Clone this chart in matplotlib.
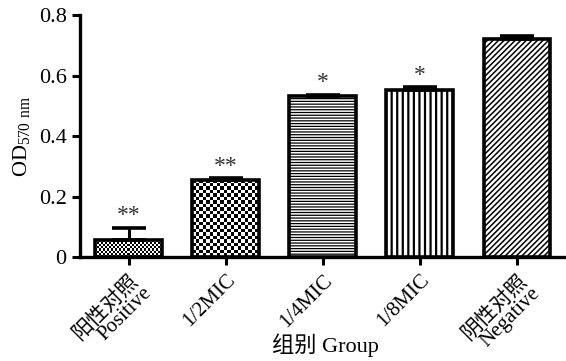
import numpy as np
import matplotlib
matplotlib.use("Agg")
import matplotlib.pyplot as plt

plt.rcParams["font.family"] = ["Liberation Serif", "Noto Sans CJK SC"]
plt.rcParams["mathtext.fontset"] = "custom"
plt.rcParams["mathtext.rm"] = "Liberation Serif"

groups = ["阳性对照\nPositive", "1/2MIC", "1/4MIC", "1/8MIC", "阴性对照\nNegative"]
od = [0.056, 0.255, 0.532, 0.553, 0.722]
err = [0.040, 0.005, 0.005, 0.008, 0.010]
marks = ["**", "**", "*", "*", ""]

WIDTH = 0.69
EDGE = 2.6
# fill style per bar: ("checker", cells across) or (hatch string, hatch lw)
fills = [("checker", 33), ("checker", 19), ("------", 0.9), ("|||", 1.6), ("//////", 1.1)]

fig = plt.figure(figsize=(5.66, 3.61), dpi=100)
ax = fig.add_axes([0.141, 0.288, 0.859, 0.670])

x = np.arange(len(groups))
for i, (xi, h, e) in enumerate(zip(x, od, err)):
    kind, arg = fills[i]
    x0, x1 = xi - WIDTH / 2, xi + WIDTH / 2
    if kind == "checker":
        # checkerboard fill as an image inside the bar
        cell_w = WIDTH / arg
        cell_h = cell_w * (0.8 / 242) / (1 / 97)
        ny = max(1, int(round(h / cell_h)))
        board = (np.indices((ny, arg)).sum(axis=0) % 2).astype(float)
        ax.imshow(board, extent=[x0, x1, 0, h], aspect="auto", cmap="gray",
                  interpolation="nearest", zorder=2, vmin=0, vmax=1)
        ax.bar(xi, h, WIDTH, facecolor="none", edgecolor="black",
               linewidth=EDGE, zorder=3)
    else:
        b = ax.bar(xi, h, WIDTH, facecolor="white", edgecolor="black",
                   linewidth=EDGE, hatch=kind, zorder=3)[0]
        try:
            b.set_hatch_linewidth(arg)
        except AttributeError:
            pass
    ax.errorbar(xi, h, yerr=[[0], [e]], fmt="none", ecolor="black",
                elinewidth=2.2, capsize=12, capthick=2.6, zorder=4)
    if marks[i]:
        ax.text(xi, h + e + 0.006, marks[i], ha="center", va="bottom",
                fontsize=17, color="#333333")

ax.set_xlim(-0.505, 4.505)
ax.set_ylim(0, 0.8)
ax.set_yticks([0, 0.2, 0.4, 0.6, 0.8])
ax.set_yticklabels(["0", "0.2", "0.4", "0.6", "0.8"], fontsize=16)
ax.set_xticks(x)
ax.set_xticklabels(groups, rotation=45, ha="right", rotation_mode="anchor",
                   fontsize=15, linespacing=0.9)
ax.tick_params(axis="both", width=2.2, length=6, direction="out")
ax.tick_params(axis="x", pad=4)

for side in ("top", "right"):
    ax.spines[side].set_visible(False)
for side in ("left", "bottom"):
    ax.spines[side].set_linewidth(2.4)

ax.set_ylabel(r"OD$_{\mathrm{570\ nm}}$", fontsize=16, labelpad=4)
fig.text(0.575, 0.01, "组别 Group", ha="center", va="bottom", fontsize=16)

fig.savefig("out.png", dpi=100)
